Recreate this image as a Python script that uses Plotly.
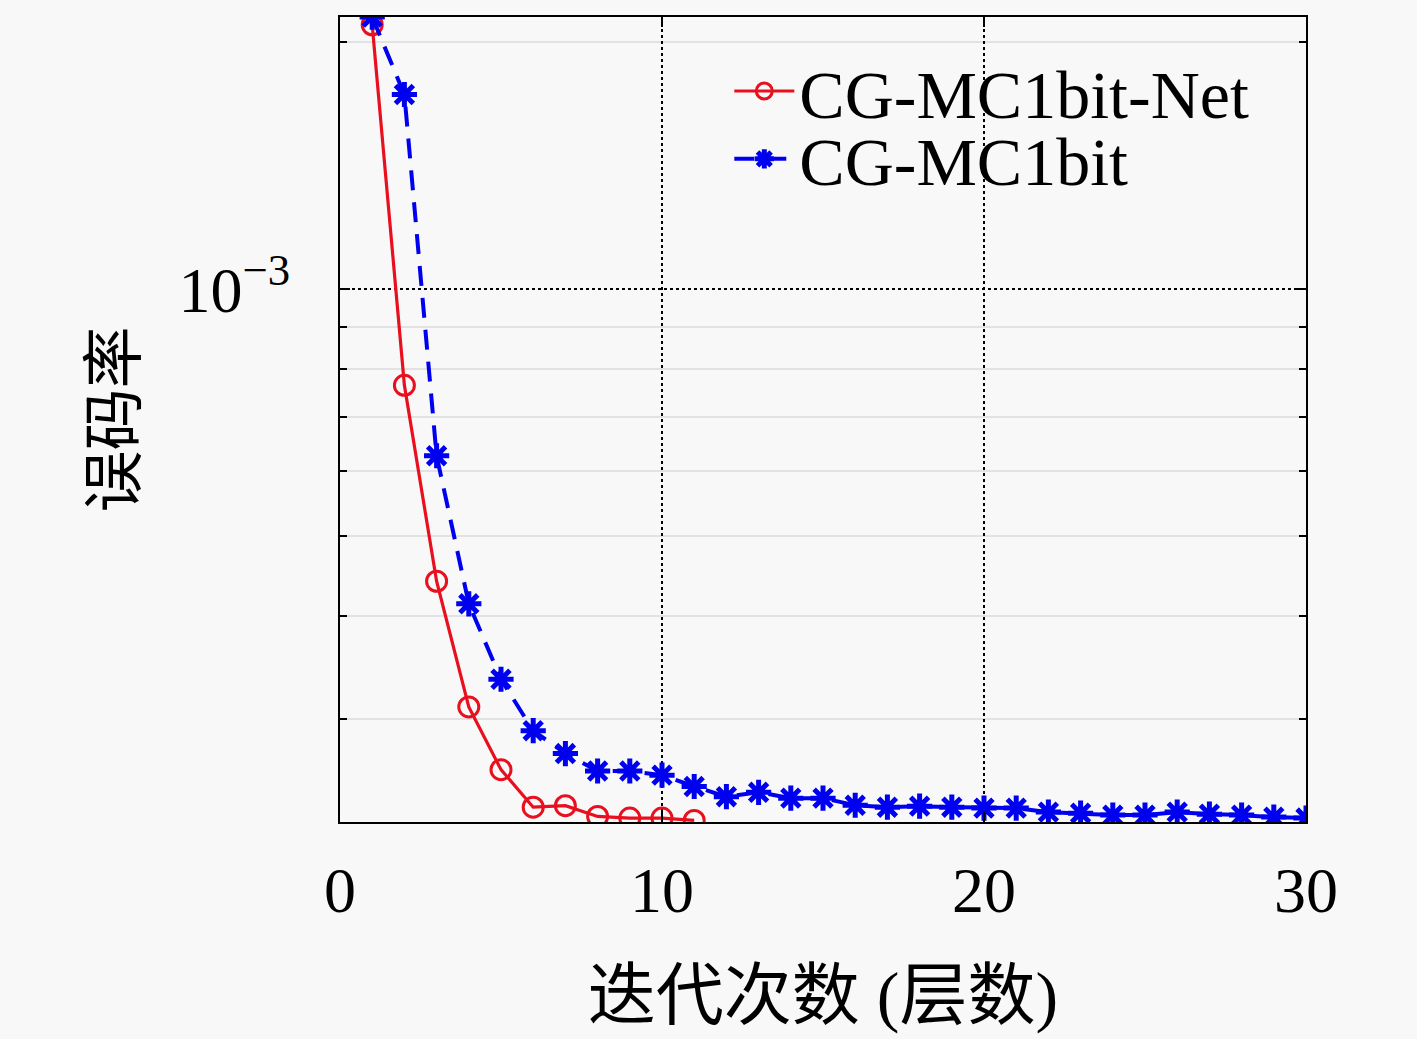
import plotly.graph_objects as go

# data
layers_net = list(range(1, 12))
ber_net = [2.10e-3, 7.64e-4, 4.41e-4, 3.10e-4, 2.60e-4, 2.34e-4, 2.35e-4,
           2.28e-4, 2.27e-4, 2.27e-4, 2.255e-4]

layers_base = list(range(1, 31))
ber_base = [2.146e-3, 1.727e-3, 6.27e-4, 4.14e-4, 3.35e-4, 2.90e-4, 2.72e-4,
            2.59e-4, 2.59e-4, 2.56e-4, 2.48e-4, 2.41e-4, 2.44e-4, 2.40e-4,
            2.40e-4, 2.353e-4, 2.34e-4, 2.347e-4, 2.34e-4, 2.334e-4, 2.334e-4,
            2.308e-4, 2.301e-4, 2.289e-4, 2.289e-4, 2.308e-4, 2.295e-4,
            2.289e-4, 2.276e-4, 2.270e-4]

names = ["CG-MC1bit-Net", "CG-MC1bit"]
x_ticks = [0, 10, 20, 30]
y_ticks = [1e-3]
y_ticktext = ["10<sup>−3</sup>"]
y_minor = [3e-4, 4e-4, 5e-4, 6e-4, 7e-4, 8e-4, 9e-4, 2e-3]

BG = "#f8f8f8"
FONT = "Liberation Serif, Noto Sans CJK SC, serif"
RED = "#e8101e"
BLUE = "#0000f0"

fig = go.Figure()
fig.add_trace(go.Scatter(
    x=layers_net, y=ber_net, name=names[0], mode="lines+markers", legend="legend",
    line=dict(color=RED, width=3.2),
    marker=dict(symbol="circle-open", size=20, color=RED, line=dict(width=3)),
))
fig.add_trace(go.Scatter(
    x=layers_base, y=ber_base, name=names[1], mode="lines+markers", legend="legend2",
    line=dict(color=BLUE, width=4, dash="20px,12px"),
    marker=dict(symbol="asterisk-open", size=21, color=BLUE, line=dict(width=5, color=BLUE)),
))

# one legend per trace so the row spacing can match the reference
leg = dict(xanchor="left", yanchor="middle", bgcolor="rgba(0,0,0,0)",
           font=dict(size=68), itemwidth=60)
fig.update_layout(
    width=1417, height=1039,
    paper_bgcolor=BG, plot_bgcolor=BG,
    margin=dict(l=332, r=119, t=7, b=225),
    font=dict(family=FONT, size=64, color="black"),
    showlegend=True,
    legend=dict(leg, x=0.403, y=0.9077),
    legend2=dict(leg, x=0.403, y=0.8234),
)

fig.update_xaxes(
    range=[0, 30], tickvals=x_ticks, ticks="inside", ticklen=10, tickwidth=1.5,
    tickcolor="black", showline=True, linecolor="black", linewidth=2, mirror="ticks",
    showgrid=True, gridcolor="black", griddash="dot", gridwidth=1.5,
    zeroline=False, ticklabelstandoff=11,
    title=dict(text="迭代次数 (层数)", font=dict(size=68), standoff=47),
)
fig.update_yaxes(
    type="log", range=[-3.6488, -2.6683], tickvals=y_ticks, ticktext=y_ticktext,
    ticks="inside", ticklen=10, tickwidth=1.5, tickcolor="black",
    showline=True, linecolor="black", linewidth=2, mirror="ticks",
    showgrid=True, gridcolor="black", griddash="dot", gridwidth=1.5,
    zeroline=False, ticklabelstandoff=35,
    minor=dict(tickvals=y_minor, ticks="inside", ticklen=7, tickcolor="black",
               showgrid=True, gridcolor="#e2e2e2", gridwidth=2, griddash="solid"),
    title=dict(text="误码率", font=dict(size=62), standoff=22),
)

fig.write_html("out.html", post_script="document.body.style.backgroundColor='#f8f8f8';")
